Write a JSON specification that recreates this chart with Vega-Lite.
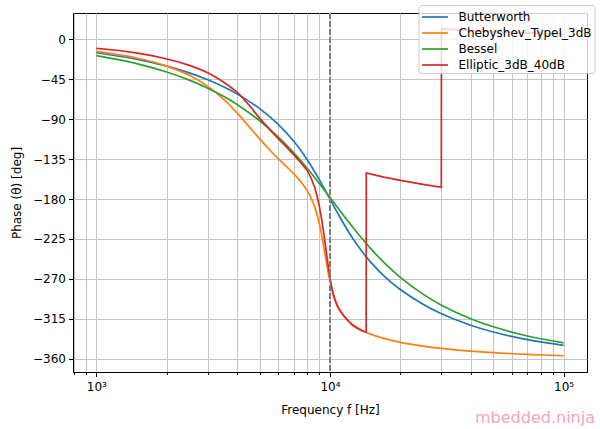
{
  "$schema": "https://vega.github.io/schema/vega-lite/v6.json",
  "description": "Phase response of 4th order low-pass filters, cutoff 10 kHz",
  "width": 514,
  "height": 359,
  "autosize": {"type": "none"},
  "padding": {"left": 73, "top": 13, "right": 13, "bottom": 57},
  "background": "white",
  "config": {
    "font": "DejaVu Sans",
    "view": {"stroke": "black", "strokeWidth": 1},
    "axis": {
      "domainColor": "black",
      "tickColor": "black",
      "labelColor": "black",
      "titleColor": "black",
      "labelFont": "DejaVu Sans",
      "labelFontSize": 12,
      "titleFont": "DejaVu Sans",
      "titleFontSize": 12,
      "titleFontWeight": "normal",
      "gridColor": "#c4c4c4",
      "gridWidth": 1
    }
  },
  "title": {
    "text": "mbedded.ninja",
    "orient": "bottom",
    "anchor": "end",
    "frame": "group",
    "offset": -6,
    "dx": 8,
    "color": "#f4a6b8",
    "fontSize": 16,
    "font": "DejaVu Sans",
    "fontWeight": "normal"
  },
  "data": {
    "values": [
      {"filter": "Butterworth", "f": 1000, "phase": -14.99},
      {"filter": "Butterworth", "f": 1500, "phase": -22.53},
      {"filter": "Butterworth", "f": 2000, "phase": -30.11},
      {"filter": "Butterworth", "f": 2500, "phase": -37.77},
      {"filter": "Butterworth", "f": 3000, "phase": -45.51},
      {"filter": "Butterworth", "f": 3500, "phase": -53.37},
      {"filter": "Butterworth", "f": 4000, "phase": -61.38},
      {"filter": "Butterworth", "f": 5000, "phase": -77.96},
      {"filter": "Butterworth", "f": 6000, "phase": -95.66},
      {"filter": "Butterworth", "f": 7000, "phase": -114.89},
      {"filter": "Butterworth", "f": 8000, "phase": -135.86},
      {"filter": "Butterworth", "f": 9000, "phase": -158.06},
      {"filter": "Butterworth", "f": 10000, "phase": -180},
      {"filter": "Butterworth", "f": 11000, "phase": -199.9},
      {"filter": "Butterworth", "f": 12000, "phase": -216.82},
      {"filter": "Butterworth", "f": 13000, "phase": -230.77},
      {"filter": "Butterworth", "f": 14000, "phase": -242.22},
      {"filter": "Butterworth", "f": 15000, "phase": -251.7},
      {"filter": "Butterworth", "f": 17000, "phase": -266.5},
      {"filter": "Butterworth", "f": 20000, "phase": -282.04},
      {"filter": "Butterworth", "f": 25000, "phase": -298.62},
      {"filter": "Butterworth", "f": 30000, "phase": -309.27},
      {"filter": "Butterworth", "f": 40000, "phase": -322.23},
      {"filter": "Butterworth", "f": 50000, "phase": -329.89},
      {"filter": "Butterworth", "f": 70000, "phase": -338.55},
      {"filter": "Butterworth", "f": 100000, "phase": -345.01},

      {"filter": "Chebyshev_TypeI_3dB", "f": 1000, "phase": -13.56},
      {"filter": "Chebyshev_TypeI_3dB", "f": 1500, "phase": -21.23},
      {"filter": "Chebyshev_TypeI_3dB", "f": 2000, "phase": -30.06},
      {"filter": "Chebyshev_TypeI_3dB", "f": 2500, "phase": -40.51},
      {"filter": "Chebyshev_TypeI_3dB", "f": 3000, "phase": -52.94},
      {"filter": "Chebyshev_TypeI_3dB", "f": 3500, "phase": -67.32},
      {"filter": "Chebyshev_TypeI_3dB", "f": 4000, "phase": -82.9},
      {"filter": "Chebyshev_TypeI_3dB", "f": 4500, "phase": -98.26},
      {"filter": "Chebyshev_TypeI_3dB", "f": 5000, "phase": -112.15},
      {"filter": "Chebyshev_TypeI_3dB", "f": 5500, "phase": -124.09},
      {"filter": "Chebyshev_TypeI_3dB", "f": 6000, "phase": -134.28},
      {"filter": "Chebyshev_TypeI_3dB", "f": 6500, "phase": -143.25},
      {"filter": "Chebyshev_TypeI_3dB", "f": 7000, "phase": -151.7},
      {"filter": "Chebyshev_TypeI_3dB", "f": 7500, "phase": -160.48},
      {"filter": "Chebyshev_TypeI_3dB", "f": 8000, "phase": -170.84},
      {"filter": "Chebyshev_TypeI_3dB", "f": 8500, "phase": -185.14},
      {"filter": "Chebyshev_TypeI_3dB", "f": 8750, "phase": -195.03},
      {"filter": "Chebyshev_TypeI_3dB", "f": 9000, "phase": -207.65},
      {"filter": "Chebyshev_TypeI_3dB", "f": 9250, "phase": -223.26},
      {"filter": "Chebyshev_TypeI_3dB", "f": 9500, "phase": -240.85},
      {"filter": "Chebyshev_TypeI_3dB", "f": 9750, "phase": -257.99},
      {"filter": "Chebyshev_TypeI_3dB", "f": 10000, "phase": -272.54},
      {"filter": "Chebyshev_TypeI_3dB", "f": 10250, "phase": -283.93},
      {"filter": "Chebyshev_TypeI_3dB", "f": 10500, "phase": -292.73},
      {"filter": "Chebyshev_TypeI_3dB", "f": 11000, "phase": -304.55},
      {"filter": "Chebyshev_TypeI_3dB", "f": 12000, "phase": -317.52},
      {"filter": "Chebyshev_TypeI_3dB", "f": 13000, "phase": -324.59},
      {"filter": "Chebyshev_TypeI_3dB", "f": 14000, "phase": -329.22},
      {"filter": "Chebyshev_TypeI_3dB", "f": 15000, "phase": -332.54},
      {"filter": "Chebyshev_TypeI_3dB", "f": 17000, "phase": -337.16},
      {"filter": "Chebyshev_TypeI_3dB", "f": 20000, "phase": -341.52},
      {"filter": "Chebyshev_TypeI_3dB", "f": 25000, "phase": -345.81},
      {"filter": "Chebyshev_TypeI_3dB", "f": 30000, "phase": -348.41},
      {"filter": "Chebyshev_TypeI_3dB", "f": 40000, "phase": -351.48},
      {"filter": "Chebyshev_TypeI_3dB", "f": 50000, "phase": -353.24},
      {"filter": "Chebyshev_TypeI_3dB", "f": 70000, "phase": -355.2},
      {"filter": "Chebyshev_TypeI_3dB", "f": 100000, "phase": -356.66},

      {"filter": "Bessel", "f": 1000, "phase": -18.34},
      {"filter": "Bessel", "f": 1500, "phase": -27.51},
      {"filter": "Bessel", "f": 2000, "phase": -36.68},
      {"filter": "Bessel", "f": 2500, "phase": -45.86},
      {"filter": "Bessel", "f": 3000, "phase": -55.02},
      {"filter": "Bessel", "f": 3500, "phase": -64.19},
      {"filter": "Bessel", "f": 4000, "phase": -73.36},
      {"filter": "Bessel", "f": 5000, "phase": -91.68},
      {"filter": "Bessel", "f": 6000, "phase": -109.92},
      {"filter": "Bessel", "f": 7000, "phase": -127.95},
      {"filter": "Bessel", "f": 8000, "phase": -145.54},
      {"filter": "Bessel", "f": 9000, "phase": -162.39},
      {"filter": "Bessel", "f": 10000, "phase": -178.15},
      {"filter": "Bessel", "f": 11000, "phase": -192.6},
      {"filter": "Bessel", "f": 12000, "phase": -205.6},
      {"filter": "Bessel", "f": 13000, "phase": -217.15},
      {"filter": "Bessel", "f": 14000, "phase": -227.37},
      {"filter": "Bessel", "f": 15000, "phase": -236.37},
      {"filter": "Bessel", "f": 17000, "phase": -251.37},
      {"filter": "Bessel", "f": 20000, "phase": -268.26},
      {"filter": "Bessel", "f": 25000, "phase": -287.18},
      {"filter": "Bessel", "f": 30000, "phase": -299.61},
      {"filter": "Bessel", "f": 40000, "phase": -314.94},
      {"filter": "Bessel", "f": 50000, "phase": -324.04},
      {"filter": "Bessel", "f": 70000, "phase": -334.37},
      {"filter": "Bessel", "f": 100000, "phase": -342.08},

      {"filter": "Elliptic_3dB_40dB", "f": 1000, "phase": -10.1},
      {"filter": "Elliptic_3dB_40dB", "f": 1250, "phase": -12.5},
      {"filter": "Elliptic_3dB_40dB", "f": 1500, "phase": -15.4},
      {"filter": "Elliptic_3dB_40dB", "f": 1750, "phase": -18.5},
      {"filter": "Elliptic_3dB_40dB", "f": 2000, "phase": -22.1},
      {"filter": "Elliptic_3dB_40dB", "f": 2250, "phase": -25.5},
      {"filter": "Elliptic_3dB_40dB", "f": 2500, "phase": -29.3},
      {"filter": "Elliptic_3dB_40dB", "f": 2750, "phase": -33.2},
      {"filter": "Elliptic_3dB_40dB", "f": 3000, "phase": -37.6},
      {"filter": "Elliptic_3dB_40dB", "f": 3250, "phase": -42.6},
      {"filter": "Elliptic_3dB_40dB", "f": 3500, "phase": -48},
      {"filter": "Elliptic_3dB_40dB", "f": 3750, "phase": -53.6},
      {"filter": "Elliptic_3dB_40dB", "f": 4000, "phase": -59.5},
      {"filter": "Elliptic_3dB_40dB", "f": 4250, "phase": -66.5},
      {"filter": "Elliptic_3dB_40dB", "f": 4500, "phase": -74},
      {"filter": "Elliptic_3dB_40dB", "f": 4750, "phase": -81.7},
      {"filter": "Elliptic_3dB_40dB", "f": 5000, "phase": -89},
      {"filter": "Elliptic_3dB_40dB", "f": 5500, "phase": -101.2},
      {"filter": "Elliptic_3dB_40dB", "f": 6000, "phase": -111.8},
      {"filter": "Elliptic_3dB_40dB", "f": 6500, "phase": -121.2},
      {"filter": "Elliptic_3dB_40dB", "f": 7000, "phase": -130.2},
      {"filter": "Elliptic_3dB_40dB", "f": 7500, "phase": -139},
      {"filter": "Elliptic_3dB_40dB", "f": 8000, "phase": -148},
      {"filter": "Elliptic_3dB_40dB", "f": 8300, "phase": -156.5},
      {"filter": "Elliptic_3dB_40dB", "f": 8600, "phase": -167},
      {"filter": "Elliptic_3dB_40dB", "f": 8800, "phase": -176.5},
      {"filter": "Elliptic_3dB_40dB", "f": 9000, "phase": -188},
      {"filter": "Elliptic_3dB_40dB", "f": 9200, "phase": -202},
      {"filter": "Elliptic_3dB_40dB", "f": 9350, "phase": -214},
      {"filter": "Elliptic_3dB_40dB", "f": 9500, "phase": -227},
      {"filter": "Elliptic_3dB_40dB", "f": 9650, "phase": -240.5},
      {"filter": "Elliptic_3dB_40dB", "f": 9800, "phase": -253},
      {"filter": "Elliptic_3dB_40dB", "f": 9900, "phase": -261},
      {"filter": "Elliptic_3dB_40dB", "f": 10000, "phase": -268},
      {"filter": "Elliptic_3dB_40dB", "f": 10100, "phase": -275},
      {"filter": "Elliptic_3dB_40dB", "f": 10200, "phase": -281},
      {"filter": "Elliptic_3dB_40dB", "f": 10300, "phase": -286.2},
      {"filter": "Elliptic_3dB_40dB", "f": 10450, "phase": -292.2},
      {"filter": "Elliptic_3dB_40dB", "f": 10700, "phase": -299.5},
      {"filter": "Elliptic_3dB_40dB", "f": 11000, "phase": -305.5},
      {"filter": "Elliptic_3dB_40dB", "f": 11500, "phase": -312.3},
      {"filter": "Elliptic_3dB_40dB", "f": 12000, "phase": -317.8},
      {"filter": "Elliptic_3dB_40dB", "f": 12500, "phase": -322.3},
      {"filter": "Elliptic_3dB_40dB", "f": 13000, "phase": -325.5},
      {"filter": "Elliptic_3dB_40dB", "f": 13500, "phase": -327.7},
      {"filter": "Elliptic_3dB_40dB", "f": 14000, "phase": -329.3},
      {"filter": "Elliptic_3dB_40dB", "f": 14280, "phase": -329.8},
      {"filter": "Elliptic_3dB_40dB", "f": 14300, "phase": -150.6},
      {"filter": "Elliptic_3dB_40dB", "f": 15000, "phase": -151.8},
      {"filter": "Elliptic_3dB_40dB", "f": 17000, "phase": -155.2},
      {"filter": "Elliptic_3dB_40dB", "f": 20000, "phase": -159},
      {"filter": "Elliptic_3dB_40dB", "f": 25000, "phase": -163.5},
      {"filter": "Elliptic_3dB_40dB", "f": 29950, "phase": -166.8},
      {"filter": "Elliptic_3dB_40dB", "f": 30000, "phase": 12},
      {"filter": "Elliptic_3dB_40dB", "f": 40000, "phase": 10},
      {"filter": "Elliptic_3dB_40dB", "f": 50000, "phase": 8.8},
      {"filter": "Elliptic_3dB_40dB", "f": 70000, "phase": 7.3},
      {"filter": "Elliptic_3dB_40dB", "f": 100000, "phase": 6}
    ]
  },
  "encoding": {
    "x": {
      "field": "f",
      "type": "quantitative",
      "scale": {"type": "log", "domain": [794.33, 125892.5], "nice": false},
      "axis": {
        "title": "Frequency f [Hz]",
        "values": [800, 900, 1000, 2000, 3000, 4000, 5000, 6000, 7000, 8000, 9000, 10000, 20000, 30000, 40000, 50000, 60000, 70000, 80000, 90000, 100000],
        "labelExpr": "datum.value == 1000 ? '10³' : datum.value == 10000 ? '10⁴' : datum.value == 100000 ? '10⁵' : ''",
        "labelOverlap": false,
        "labelFlush": false,
        "labelPadding": 5,
        "tickSize": {"condition": {"test": "datum.value == 1000 || datum.value == 10000 || datum.value == 100000", "value": 4.5}, "value": 2.4},
        "grid": true,
        "titlePadding": 12
      }
    },
    "y": {
      "field": "phase",
      "type": "quantitative",
      "scale": {"domain": [-375, 29.8], "nice": false, "zero": false},
      "axis": {
        "title": "Phase (θ) [deg]",
        "values": [-360, -315, -270, -225, -180, -135, -90, -45, 0],
        "tickSize": 4.5,
        "labelPadding": 3,
        "grid": true,
        "titlePadding": 9
      }
    },
    "color": {
      "field": "filter",
      "type": "nominal",
      "scale": {
        "domain": ["Butterworth", "Chebyshev_TypeI_3dB", "Bessel", "Elliptic_3dB_40dB"],
        "range": ["#1f77b4", "#ff7f0e", "#2ca02c", "#d62728"]
      },
      "legend": {
        "title": null,
        "orient": "none",
        "legendX": 345.5,
        "legendY": -8,
        "direction": "vertical",
        "fillColor": "rgba(255,255,255,0.8)",
        "strokeColor": "#cccccc",
        "cornerRadius": 3,
        "padding": 2,
        "rowPadding": 0,
        "symbolType": "M-0.94,0H1.94",
        "symbolSize": 324,
        "symbolStrokeWidth": 1.7,
        "labelFont": "DejaVu Sans",
        "labelFontSize": 12,
        "labelColor": "black",
        "labelOffset": 18,
        "labelLimit": 300,
        "zindex": 1
      }
    }
  },
  "layer": [
    {
      "transform": [{"filter": "datum.filter != 'Elliptic_3dB_40dB'"}],
      "mark": {"type": "line", "strokeWidth": 1.7, "interpolate": "catmull-rom", "clip": true}
    },
    {
      "transform": [{"filter": "datum.filter == 'Elliptic_3dB_40dB'"}],
      "mark": {"type": "line", "strokeWidth": 1.7, "interpolate": "linear", "clip": true}
    },
    {
      "mark": {"type": "rule", "strokeDash": [5.5, 2.5], "color": "#808080", "strokeWidth": 1.4, "clip": true},
      "encoding": {
        "x": {"datum": 10000},
        "y": {"datum": 29.8},
        "y2": {"datum": -375},
        "color": {"value": "#808080"}
      }
    }
  ]
}
